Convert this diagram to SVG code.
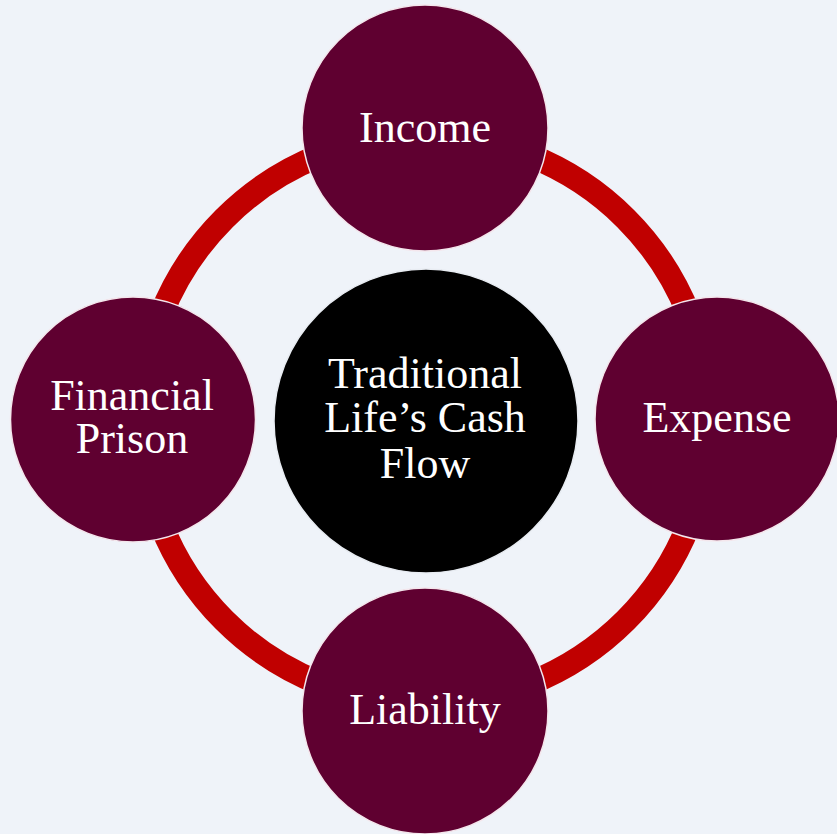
<svg xmlns="http://www.w3.org/2000/svg" width="837" height="834" viewBox="0 0 837 834">
  <style>
    .node { fill: #5f0030; stroke: #f4e6ec; stroke-width: 1.5; }
    .hub { fill: #000000; stroke: #e8ecf2; stroke-width: 1.5; }
    .label { font-family: "Liberation Serif", "Times New Roman", serif; font-size: 44px; fill: #ffffff; text-anchor: middle; }
  </style>
  <rect x="0" y="0" width="837" height="834" fill="#eff3f9"/>
  <g id="connectors">
    <circle cx="425" cy="419.5" r="284" fill="none" stroke="#c00000" stroke-width="24"/>
  </g>
  <g id="hub">
    <circle class="hub" cx="426" cy="421" r="152"/>
    <text class="label" x="425" y="388">Traditional</text>
    <text class="label" x="425" y="432">Life’s Cash</text>
    <text class="label" x="425" y="478">Flow</text>
  </g>
  <g id="income">
    <circle class="node" cx="425" cy="128" r="123"/>
    <text class="label" x="425" y="142">Income</text>
  </g>
  <g id="expense">
    <circle class="node" cx="717" cy="419" r="122"/>
    <text class="label" x="717" y="432">Expense</text>
  </g>
  <g id="liability">
    <circle class="node" cx="425" cy="711" r="123"/>
    <text class="label" x="425" y="724">Liability</text>
  </g>
  <g id="financial-prison">
    <circle class="node" cx="133" cy="419.5" r="122.5"/>
    <text class="label" x="132" y="410">Financial</text>
    <text class="label" x="132" y="453">Prison</text>
  </g>
</svg>
